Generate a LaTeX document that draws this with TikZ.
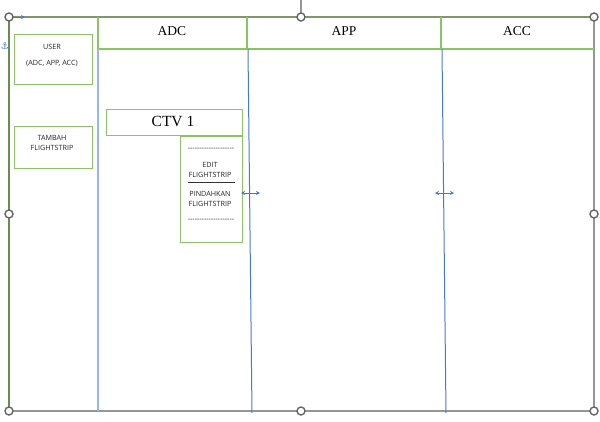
\documentclass[tikz,border=0pt]{standalone}
\usepackage{fontspec}
\setmainfont{Liberation Serif}
\newfontfamily\uifont{Open Sans}
\newfontfamily\symfont{DejaVu Sans}
\usetikzlibrary{arrows.meta}
\definecolor{gline}{RGB}{140,195,105}
\definecolor{dgline}{RGB}{105,140,80}
\definecolor{bline}{RGB}{70,120,220}
\definecolor{lbline}{RGB}{150,180,240}
\definecolor{hgray}{RGB}{100,100,100}
\definecolor{fgray}{RGB}{150,150,150}
\definecolor{tgray}{RGB}{130,150,110}
\tikzset{
  gbox/.style={draw=gline, line width=1pt, fill=white, inner sep=0pt, anchor=north west},
  hline/.style={gline, line width=1.2pt},
  small/.style={font=\uifont\fontsize{7.2}{8}\selectfont, text=black!85, inner sep=0pt},
  head/.style={font=\fontsize{13.5}{15}\selectfont, inner sep=0pt},
  handle/.style={circle, draw=hgray, line width=1.4pt, fill=white, minimum size=8pt, inner sep=0pt},
  colline/.style={bline, line width=1pt},
  dbl/.style={bline, line width=1pt, {Stealth[length=4pt,width=4pt]}-{Stealth[length=4pt,width=4pt]}}
}
\begin{document}
\begin{tikzpicture}[x=1pt,y=-1pt]
\useasboundingbox (0,0) rectangle (600,421);
% frame
\coordinate (tl) at (9,17);
\coordinate (tr) at (594,17);
\coordinate (bl) at (9,411);
\coordinate (br) at (594,411);
\draw[fgray, line width=1.4pt] (tr) -- (br) -- (bl);
\draw[dgline, line width=1.4pt] (tl) -- (bl);
\draw[tgray, line width=1.4pt] (tl) -- (tr);
\draw[fgray, line width=1.2pt] (301,0) -- (301,17);
% header row
\draw[hline] (98,49) -- (594,49);
\draw[hline] (98,17) -- (98,49);
\draw[hline] (247,17) -- (247,49);
\draw[hline] (441,17) -- (441,49);
% column lines
\draw[lbline, line width=1.8pt] (98,49) -- (98,411);
\draw[colline] (248,49) -- (252,413);
\draw[colline] (442,49) -- (446,413);
% headers
\node[head] (adc) at (172,31) {ADC};
\node[head] (app) at (344,31) {APP};
\node[head] (acc) at (517,31) {ACC};
% left boxes
\node[gbox, minimum width=78pt, minimum height=50pt] (user) at (13.5,33.5) {};
\node[small] (usert) at (52,47) {USER};
\node[small] (usert2) at (52,63) {(ADC, APP, ACC)};
\node[gbox, minimum width=78pt, minimum height=42pt] (tambah) at (13.5,125.5) {};
\node[small, align=center] (tambaht) at (52,143) {TAMBAH\\[1.2pt]FLIGHTSTRIP};
% CTV
\node[gbox, minimum width=136pt, minimum height=26pt] (ctv) at (105.5,108.5) {};
\node[font=\fontsize{15.5}{17}\selectfont, inner sep=0pt] (ctvt) at (173,121) {CTV 1};
\node[gbox, minimum width=62pt, minimum height=106pt] (menu) at (179.5,135.5) {};
\node[small] (d1) at (211,149) {-{}-{}-{}-{}-{}-{}-{}-{}-{}-{}-{}-{}-{}-{}-{}-{}-{}-{}-{}-};
\node[small, align=center] (edit) at (210,170) {EDIT\\[1.2pt]FLIGHTSTRIP};
\draw[black!80, line width=0.8pt] (188,182) -- (235,182);
\node[small, align=center] (pind) at (210,199) {PINDAHKAN\\[1.2pt]FLIGHTSTRIP};
\node[small] (d2) at (211,220) {-{}-{}-{}-{}-{}-{}-{}-{}-{}-{}-{}-{}-{}-{}-{}-{}-{}-{}-{}-};
% resize arrows
\coordinate (a1l) at (241,193);
\coordinate (a1r) at (260,193);
\coordinate (a2l) at (435,193);
\coordinate (a2r) at (454,193);
\draw[dbl] (a1l) -- (a1r);
\draw[dbl] (a2l) -- (a2r);
% anchor and small arrow
\node[text=bline, font=\symfont\fontsize{9.5}{9.5}\selectfont, inner sep=0pt] (anch) at (4.9,46) {⚓};
\coordinate (sa1) at (13,17);
\coordinate (sa2) at (25,17);
\draw[bline, line width=1pt, -{Stealth[length=4pt,width=4pt]}] (sa1) -- (sa2);
% handles
\foreach \p in {(9,17),(301,17),(594,17),(9,214),(594,214),(9,411),(301,411),(594,411)}
  \node[handle] at \p {};
\end{tikzpicture}
\end{document}
